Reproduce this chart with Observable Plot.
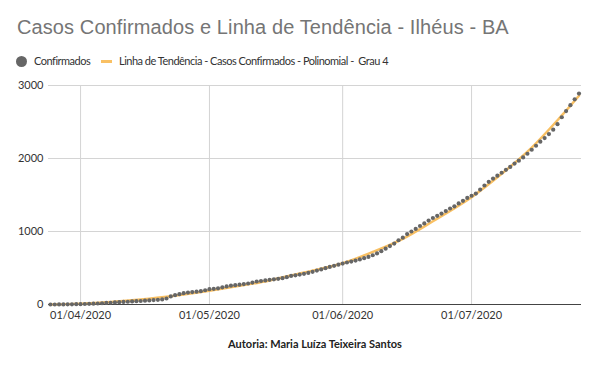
<!DOCTYPE html>
<html><head><meta charset="utf-8">
<script src="https://cdn.jsdelivr.net/npm/d3@7"></script>
<script src="https://cdn.jsdelivr.net/npm/@observablehq/plot@0.6"></script>
<style>
body{margin:0;background:#fff;}
#wrap{position:relative;width:600px;height:371px;overflow:hidden;background:#fff;}
#title{position:absolute;left:17px;top:16px;font:20px "Liberation Sans",Arial,sans-serif;color:#757575;white-space:nowrap;letter-spacing:0.1px;}
#legend{position:absolute;left:0;top:53px;width:600px;height:18px;font:11px Lato,"Open Sans",sans-serif;color:#333;white-space:nowrap;letter-spacing:-0.5px;}
#legend .dot{position:absolute;left:16px;top:3px;width:11px;height:11px;border-radius:50%;background:#666;}
#legend .t1{position:absolute;left:34px;top:1px;}
#legend .sw{position:absolute;left:101px;top:7px;width:11px;height:3px;background:#F9C063;}
#legend .t2{position:absolute;left:119px;top:1px;}
#chart{position:absolute;left:0;top:70px;}
#caption{position:absolute;left:0;width:630px;top:337px;text-align:center;font:bold 11px Lato,"Open Sans",sans-serif;color:#222;}
</style></head>
<body>
<div id="wrap">
<div id="title">Casos Confirmados e Linha de Tendência - Ilhéus - BA</div>
<div id="legend"><span class="dot"></span><span class="t1">Confirmados</span><span class="sw"></span><span class="t2">Linha de Tendência - Casos Confirmados - Polinomial -&nbsp; Grau 4</span></div>
<div id="chart"></div>
<div id="caption">Autoria: Maria Luíza Teixeira Santos</div>
</div>
<script>
// daily cumulative confirmed cases, 25/03/2020 .. 26/07/2020
const startDate = "2020-03-25";
const confirmados = [
  0,0,1,1,2,3,4,
  5,7,9,11,14,17,21,24,28,32,35,38,42,45,48,52,56,60,64,70,82,110,128,142,155,163,170,176,183,195,
  210,215,222,235,248,258,265,272,280,288,300,315,322,330,338,345,352,360,375,392,400,410,420,432,448,465,480,498,515,530,545,
  560,575,588,602,618,635,652,675,700,730,765,800,835,880,915,965,1000,1035,1075,1110,1150,1185,1215,1245,1280,1315,1345,1385,1420,1460,
  1490,1520,1575,1630,1680,1725,1765,1805,1845,1885,1930,1970,2015,2065,2120,2175,2230,2280,2335,2395,2470,2565,2650,2730,2810,2890
];
// trend line (polynomial degree 4) read at sample dates
const trendDates = ["2020-03-25","2020-04-01","2020-04-08","2020-04-15","2020-04-22","2020-05-01","2020-05-08","2020-05-15","2020-05-22","2020-06-01","2020-06-08","2020-06-15","2020-06-22","2020-07-01","2020-07-08","2020-07-15","2020-07-22","2020-07-26"];
const trendValues = [0,12,35,68,112,188,255,330,425,565,720,900,1140,1470,1790,2150,2590,2860];
const xTicks = ["2020-04-01","2020-05-01","2020-06-01","2020-07-01"];
const yTicks = [0,1000,2000,3000];

const t0 = new Date(startDate + "T00:00:00Z");
const pts = confirmados.map((v,i)=>({date:new Date(t0.getTime()+i*864e5), v}));
const trend = trendDates.map((d,i)=>({date:new Date(d+"T00:00:00Z"), v:trendValues[i]}));
const xt = xTicks.map(d=>new Date(d+"T00:00:00Z"));

const chart = Plot.plot({
  width:600, height:262,
  marginTop:15, marginBottom:28, marginLeft:48, marginRight:19,
  style:{fontFamily:"Lato, 'Open Sans', sans-serif", fontSize:"11px", color:"#333", background:"#fff"},
  x:{type:"utc", domain:[new Date(Date.UTC(2020,2,24,13)), new Date(Date.UTC(2020,6,26,14))]},
  y:{domain:[0,3000]},
  marks:[
    Plot.gridY(yTicks,{stroke:"#d4d4d4", strokeOpacity:1}),
    Plot.gridX(xt,{stroke:"#d4d4d4", strokeOpacity:1}),
    Plot.ruleY([0],{stroke:"#444"}),
    Plot.axisY(yTicks,{tickSize:0, tickPadding:5, label:null, tickFormat:d3.format("d"), fill:"#333"}),
    Plot.axisX(xt,{tickSize:0, tickPadding:7, label:null, tickFormat:d3.utcFormat("%d/%m/%Y"), fill:"#333"}),
    Plot.line(trend,{x:"date", y:"v", stroke:"#F9C063", strokeWidth:2.5, curve:"catmull-rom"}),
    Plot.dot(pts,{x:"date", y:"v", r:2.1, fill:"#666", stroke:"none"})
  ]
});
document.getElementById("chart").appendChild(chart);
</script>
</body></html>
